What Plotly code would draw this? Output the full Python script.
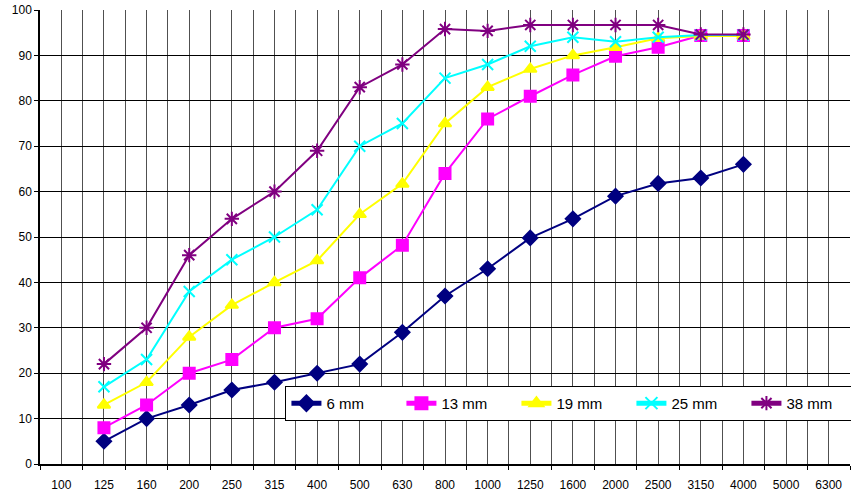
import plotly.graph_objects as go

categories = ["100", "125", "160", "200", "250", "315", "400", "500", "630", "800",
              "1000", "1250", "1600", "2000", "2500", "3150", "4000", "5000", "6300"]

# values start at category "125"
s6 = [5, 10, 13, 16.3, 18, 20, 22, 29, 37, 43, 49.8, 54, 59, 61.8, 63, 66]
s13 = [8, 13, 20, 23, 30, 32, 41, 48.2, 64, 76, 81, 85.7, 89.8, 91.8, 94.4, 94.4]
s19 = [13, 18, 28, 35, 40, 44.8, 55, 61.7, 75, 83, 87, 90, 91.8, 93.8, 94.3, 94.3]
s25 = [17, 23, 38, 45, 50, 56, 70, 75, 85, 88, 92, 94, 93, 94, 94.5, 94.5]
s38 = [22, 30, 46, 54, 60, 69, 83, 88, 95.8, 95.4, 96.7, 96.7, 96.7, 96.7, 94.6, 94.6]

series = [
    ("6 mm", s6, "#000080", "diamond", 11, 2),
    ("13 mm", s13, "#FF00FF", "square", 11, 2),
    ("19 mm", s19, "#FFFF00", "triangle-up", 11, 2),
    ("25 mm", s25, "#00FFFF", "x-thin-open", 11, 2),
    ("38 mm", s38, "#800080", "asterisk-open", 12, 2),
]

start = categories.index("125")
fig = go.Figure()
for name, vals, color, sym, size, lw in series:
    xs = list(range(start, start + len(vals)))
    fig.add_trace(go.Scatter(
        x=xs, y=vals, name=name, mode="lines+markers",
        line=dict(color=color, width=lw),
        marker=dict(symbol=sym, size=size, color=color,
                    line=dict(color=color, width=2)),
    ))

n = len(categories)
fig.update_layout(
    width=851, height=492,
    margin=dict(l=40, r=1, t=10, b=28, autoexpand=False),
    paper_bgcolor="white", plot_bgcolor="white",
    font=dict(family="Liberation Sans, Arial, sans-serif", size=12, color="black"),
    showlegend=True,
    legend=dict(
        orientation="h", x=0.303, y=0.172, xanchor="left", yanchor="top",
        bgcolor="white", bordercolor="black", borderwidth=1,
        font=dict(size=15, color="black"),
        entrywidth=70, entrywidthmode="pixels",
        itemsizing="constant",
    ),
    xaxis=dict(
        range=[-0.5, n - 0.5], automargin=False,
        tickmode="array", tickvals=list(range(n)), ticktext=categories,
        ticks="", ticklabelstandoff=9,
        showgrid=True, gridcolor="#505050", gridwidth=1,
        showline=True, linecolor="black", linewidth=1.5,
        zeroline=False, fixedrange=True,
        minor=dict(tickmode="array", tickvals=[i - 0.5 for i in range(n + 1)],
                   ticks="outside", ticklen=4, tickcolor="black",
                   showgrid=True, gridcolor="#505050", gridwidth=1),
    ),
    yaxis=dict(
        range=[0, 100], tickmode="linear", tick0=0, dtick=10, automargin=False,
        ticks="outside", ticklen=4, tickcolor="black",
        showgrid=True, gridcolor="black", gridwidth=1,
        showline=True, linecolor="black", linewidth=1.5,
        zeroline=False, fixedrange=True,
    ),
)

fig.write_html("out.html", config={"displayModeBar": False},
               post_script="document.body.style.margin='0';document.body.style.overflow='hidden';")
